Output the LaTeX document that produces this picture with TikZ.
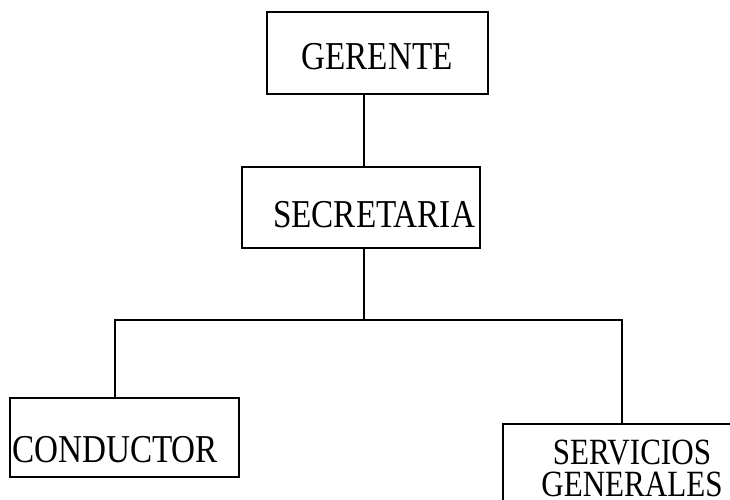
\documentclass[tikz,border=0pt]{standalone}
\usepackage{fontspec}
\setmainfont{Liberation Serif}[FakeStretch=0.84]
\begin{document}
\begin{tikzpicture}[x=1pt,y=-1pt,
  box/.style={draw, line width=1.5pt, inner sep=0pt},
  lbl/.style={inner sep=0pt, anchor=base, font=\fontsize{39.5}{32}\selectfont},
  link/.style={line width=1.5pt}]
\useasboundingbox (0,0) rectangle (730,500);
\clip (0,0) rectangle (730,500);
% boxes
\node[box, minimum width=221pt, minimum height=82pt] (ger) at (377.5,53) {};
\node[box, minimum width=238pt, minimum height=81pt] (sec) at (361,207.5) {};
\node[box, minimum width=229pt, minimum height=79pt] (con) at (124.5,437.5) {};
\node[box, minimum width=257pt, minimum height=96pt] (ser) at (631.5,472) {};
% texts
\node[lbl] (tger) at (377,70) {GERENTE};
\node[lbl] (tsec) at (374,227) {SECRETARIA};
\node[lbl, anchor=base west] (tcon) at (12,462) {CONDUCTOR};
\node[lbl, anchor=center, align=center, font=\fontsize{37}{32}\selectfont] (tser) at (632,468) {SERVICIOS\\GENERALES};
% connectors
\coordinate (j) at (364,320);
\coordinate (bl) at (115,320);
\coordinate (br) at (622,320);
\draw[link] (ger.south -| j) -- (sec.north -| j);
\draw[link] (sec.south -| j) -- (j);
\draw[link] (con.north -| bl) -- (bl) -- (br) -- (ser.north -| br);
\end{tikzpicture}
\end{document}
